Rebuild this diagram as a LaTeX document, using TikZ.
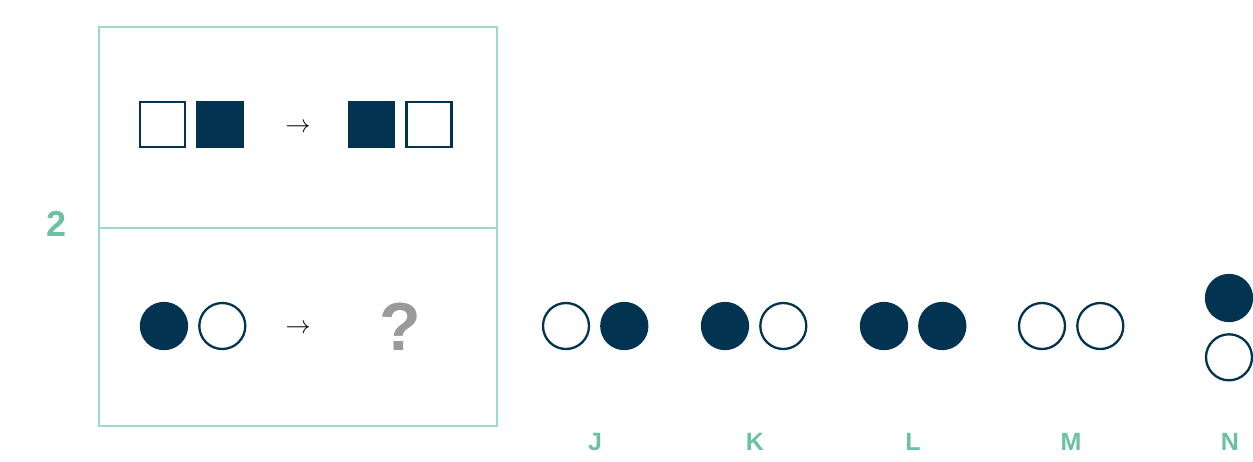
\documentclass[tikz,border=0pt]{standalone}
\usepackage{fontspec}
\setmainfont{Liberation Sans}
\usetikzlibrary{positioning}
\definecolor{navy}{HTML}{023452}
\definecolor{mintline}{HTML}{9ED8C6}
\definecolor{minttxt}{HTML}{6CC1A1}
\definecolor{qgrey}{HTML}{9A9A9A}

\begin{document}
\begin{tikzpicture}[x=1pt, y=-1pt,
  sq/.style={draw=navy, line width=2.4pt, minimum size=45pt, inner sep=0pt},
  sqon/.style={sq, fill=navy},
  sqoff/.style={sq, fill=white},
  dot/.style={circle, draw=navy, line width=2.3pt, minimum size=46pt, inner sep=0pt},
  doton/.style={dot, fill=navy},
  dotoff/.style={dot, fill=white},
  panel/.style={draw=mintline, line width=1.6pt, minimum width=398pt, inner sep=0pt, outer sep=0pt},
  lbl/.style={text=minttxt, font=\bfseries\fontsize{25}{25}\selectfont},
  arw/.style={font=\fontsize{28}{28}\selectfont}]
\useasboundingbox[fill=white] (0,0) rectangle (1253,461);
% puzzle panel
\node[panel, minimum height=201pt] (pnltop) at (298,127.5) {};
\node[panel, minimum height=198pt, below=0pt of pnltop] (pnlbot) {};
\node[text=minttxt, font=\bfseries\fontsize{36}{36}\selectfont] (num) at (57,224) {2};
% example pair
\node[sqoff] (sqa) at (162.5,124.5) {};
\node[sqon, right=10pt of sqa] (sqb) {};
\node[arw] (arwtop) at (298,128) {\(\rightarrow\)};
\node[sqon] (sqc) at (371.5,124.5) {};
\node[sqoff, right=10pt of sqc] (sqd) {};
% question pair
\node[doton] (dta) at (164,326) {};
\node[dotoff, right=10pt of dta] (dtb) {};
\node[arw] (arwbot) at (298,329) {\(\rightarrow\)};
\node[text=qgrey, font=\bfseries\fontsize{68}{68}\selectfont] (qmark) at (400,327) {?};
% answer options
\node[dotoff] (ja) at (566,326) {};
\node[doton, right=10pt of ja] (jb) {};
\node[doton] (ka) at (725,326) {};
\node[dotoff, right=10pt of ka] (kb) {};
\node[doton] (la) at (884,326) {};
\node[doton, right=10pt of la] (lb) {};
\node[dotoff] (ma) at (1042,326) {};
\node[dotoff, right=10pt of ma] (mb) {};
\node[doton] (na) at (1229,298) {};
\node[dotoff, below=11pt of na] (nb) {};
% option letters
\node[lbl] (optj) at (595,442) {J};
\node[lbl] (optk) at (755,442) {K};
\node[lbl] (optl) at (913,442) {L};
\node[lbl] (optm) at (1071,442) {M};
\node[lbl] (optn) at (1230,442) {N};
\end{tikzpicture}
\end{document}
